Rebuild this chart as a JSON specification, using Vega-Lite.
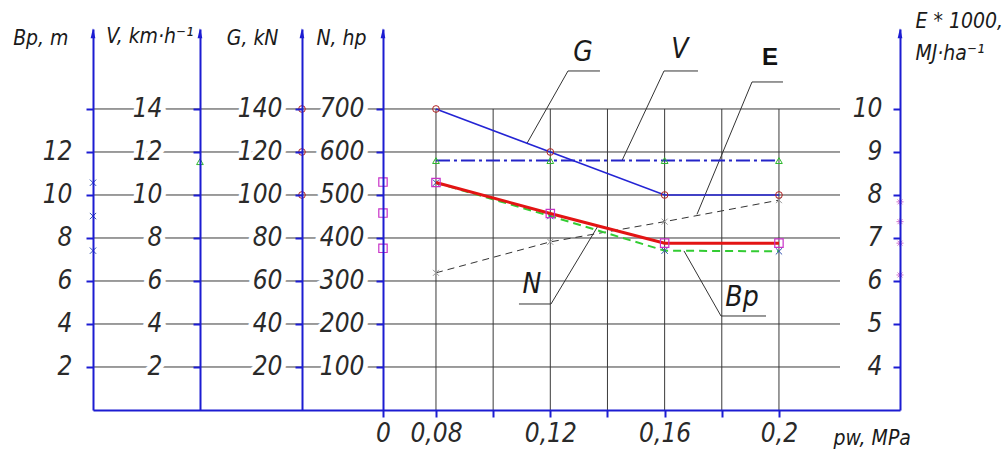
{
  "$schema": "https://vega.github.io/schema/vega-lite/v6.json",
  "width": 807,
  "height": 381,
  "autosize": {"type": "none"},
  "padding": {"left": 93, "top": 29, "right": 104, "bottom": 42},
  "background": "white",
  "config": {
    "view": {"stroke": null},
    "axis": {
      "domainColor": "#1c1cd2", "domainWidth": 2,
      "tickColor": "#1c1cd2", "tickWidth": 2, "tickSize": 7, "ticks": true,
      "labelFont": "DejaVu Sans Condensed, DejaVu Sans, sans-serif",
      "labelFontStyle": "italic", "labelFontSize": 26, "labelColor": "#2a2a2a",
      "labelOverlap": false, "labelFlush": false, "labelBound": false,
      "titleFont": "DejaVu Sans Condensed, DejaVu Sans, sans-serif",
      "titleFontStyle": "italic", "titleFontWeight": "normal", "titleFontSize": 21, "titleColor": "#1a1a1a",
      "grid": false
    }
  },
  "datasets": {
    "series": [
      {"p": 0.08, "G": 140, "V": 11.6, "N": 529, "Bp": 10.57, "E": 6.19},
      {"p": 0.12, "G": 120, "V": 11.6, "N": 457, "Bp": 9.02, "E": 6.91},
      {"p": 0.16, "G": 100, "V": 11.6, "N": 388, "Bp": 7.41, "E": 7.38},
      {"p": 0.2, "G": 100, "V": 11.6, "N": 388, "Bp": 7.38, "E": 7.88}
    ],
    "levels": [
      {"y": 100, "p": -0.04, "p2": 0.22136}, {"y": 200, "p": -0.04, "p2": 0.22136},
      {"y": 300, "p": -0.04, "p2": 0.22136}, {"y": 400, "p": -0.04, "p2": 0.22136},
      {"y": 500, "p": -0.04, "p2": 0.22136}, {"y": 600, "p": -0.04, "p2": 0.22136},
      {"y": 700, "p": -0.04, "p2": 0.22136}
    ],
    "vlines": [
      {"p": 0.08, "y": 0, "y2": 700}, {"p": 0.1, "y": 0, "y2": 700}, {"p": 0.12, "y": 0, "y2": 700},
      {"p": 0.14, "y": 0, "y2": 700}, {"p": 0.16, "y": 0, "y2": 700}, {"p": 0.18, "y": 0, "y2": 700},
      {"p": 0.2, "y": 0, "y2": 700}
    ],
    "axisTops": [
      {"p": -0.04, "y": 880}, {"p": -0.00258, "y": 880}, {"p": 0.03311, "y": 880},
      {"p": 0.06146, "y": 880}, {"p": 0.24235, "y": 880}
    ],
    "leaders": [
      {"p": 0.12619, "y": 788.4, "p2": 0.13738, "y2": 788.4},
      {"p": 0.12619, "y": 788.4, "p2": 0.11184, "y2": 620},
      {"p": 0.15978, "y": 788.4, "p2": 0.17167, "y2": 788.4},
      {"p": 0.15978, "y": 788.4, "p2": 0.14508, "y2": 580},
      {"p": 0.19057, "y": 762.8, "p2": 0.20141, "y2": 762.8},
      {"p": 0.19057, "y": 762.8, "p2": 0.17132, "y2": 455},
      {"p": 0.10904, "y": 246.5, "p2": 0.12024, "y2": 246.5},
      {"p": 0.12024, "y": 246.5, "p2": 0.13668, "y2": 428},
      {"p": 0.17972, "y": 218.6, "p2": 0.19547, "y2": 218.6},
      {"p": 0.17972, "y": 218.6, "p2": 0.16677, "y2": 370}
    ],
    "labels": [
      {"text": "G", "p": 0.13143, "y": 830},
      {"text": "V", "p": 0.16537, "y": 837},
      {"text": "E", "p": 0.19687, "y": 819},
      {"text": "N", "p": 0.11359, "y": 291},
      {"text": "Bp", "p": 0.18707, "y": 261}
    ],
    "bpMarks": [{"p": -0.04, "Bp": 10.57}, {"p": -0.04, "Bp": 9.02}, {"p": -0.04, "Bp": 7.41}],
    "vMarks": [{"p": -0.00258, "V": 11.55}],
    "gMarks": [{"p": 0.03311, "G": 140}, {"p": 0.03311, "G": 120}, {"p": 0.03311, "G": 100}],
    "nMarks": [{"p": 0.06146, "N": 530}, {"p": 0.06146, "N": 458}, {"p": 0.06146, "N": 376}],
    "eMarks": [{"p": 0.24235, "E": 7.84}, {"p": 0.24235, "E": 7.38}, {"p": 0.24235, "E": 6.88}, {"p": 0.24235, "E": 6.14}]
  },
  "encoding": {
    "x": {
      "field": "p", "type": "quantitative",
      "scale": {"domain": [-0.04, 0.24235], "nice": false, "zero": false},
      "axis": {
        "orient": "bottom", "zindex": 3,
        "values": [0.06146, 0.08, 0.1, 0.12, 0.14, 0.16, 0.18, 0.2],
        "labelExpr": "datum.value < 0.07 ? '0' : (datum.value == 0.1 || datum.value == 0.14 || datum.value == 0.18) ? '' : replace(format(datum.value, '.2~f'), '.', ',')",
        "tickSize": 7, "labelPadding": 3,
        "title": "pw, MPa", "titleX": 740, "titleY": 28, "titleAlign": "left", "titleBaseline": "middle", "titleAngle": 0
      }
    }
  },
  "layer": [
    {
      "encoding": {"y": {"field": "y", "type": "quantitative", "scale": {"domain": [0, 886], "nice": false, "zero": false}, "axis": null}},
      "layer": [
        {"data": {"name": "levels"}, "mark": {"type": "rule", "color": "#3a3a3a", "strokeWidth": 1},
         "encoding": {"x2": {"field": "p2"}}},
        {"data": {"name": "vlines"}, "mark": {"type": "rule", "color": "#3a3a3a", "strokeWidth": 1},
         "encoding": {"y2": {"field": "y2"}}},
        {"data": {"name": "leaders"}, "mark": {"type": "rule", "color": "#333333", "strokeWidth": 1},
         "encoding": {"x2": {"field": "p2"}, "y2": {"field": "y2"}}},
        {"data": {"name": "labels"}, "transform": [{"filter": "datum.text != 'E'"}],
         "mark": {"type": "text", "font": "DejaVu Sans Condensed, DejaVu Sans, sans-serif", "fontStyle": "italic", "fontSize": 28, "color": "#1a1a1a"},
         "encoding": {"text": {"field": "text"}}},
        {"data": {"name": "labels"}, "transform": [{"filter": "datum.text == 'E'"}],
         "mark": {"type": "text", "font": "Liberation Sans, sans-serif", "fontWeight": "bold", "fontSize": 24, "color": "#111111"},
         "encoding": {"text": {"field": "text"}}},
        {"data": {"name": "axisTops"}, "mark": {"type": "point", "shape": "M-0.35,1L0,-0.5L0.35,1Z", "filled": true, "color": "#1c1cd2", "size": 180, "opacity": 1}}
      ]
    },
    {
      "data": {"name": "series"}, "mark": {"type": "point", "opacity": 0},
      "encoding": {"y": {"field": "E", "type": "quantitative", "scale": {"domain": [3, 11.86], "nice": false, "zero": false},
        "axis": {"orient": "left", "offset": -807, "values": [4, 5, 6, 7, 8, 9, 10], "labelPadding": 11, "title": null, "domain": false, "tickOpacity": 0, "labelColor": "white", "zindex": 1,
          "encoding": {"labels": {"stroke": {"value": "white"}, "strokeWidth": {"value": 10}, "strokeJoin": {"value": "round"}}}}}}
    },
    {
      "data": {"name": "series"}, "mark": {"type": "point", "opacity": 0},
      "encoding": {"y": {"field": "Bp", "type": "quantitative", "scale": {"domain": [0, 17.72], "nice": false, "zero": false},
        "axis": {"orient": "left", "offset": 0, "values": [2, 4, 6, 8, 10, 12, 14], "labelExpr": "datum.value == 14 ? '' : datum.label", "labelPadding": 14, "title": null, "domain": false, "tickOpacity": 0, "labelColor": "white", "zindex": 1,
          "encoding": {"labels": {"stroke": {"value": "white"}, "strokeWidth": {"value": 10}, "strokeJoin": {"value": "round"}}}}}}
    },
    {
      "data": {"name": "series"}, "mark": {"type": "point", "opacity": 0},
      "encoding": {"y": {"field": "N", "type": "quantitative", "scale": {"domain": [0, 886], "nice": false, "zero": false},
        "axis": {"orient": "left", "offset": -290, "values": [100, 200, 300, 400, 500, 600, 700], "labelPadding": 12, "title": null, "domain": false, "tickOpacity": 0, "labelColor": "white", "zindex": 1,
          "encoding": {"labels": {"stroke": {"value": "white"}, "strokeWidth": {"value": 10}, "strokeJoin": {"value": "round"}}}}}}
    },
    {
      "data": {"name": "series"}, "mark": {"type": "point", "opacity": 0},
      "encoding": {"y": {"field": "V", "type": "quantitative", "scale": {"domain": [0, 17.72], "nice": false, "zero": false},
        "axis": {"orient": "left", "offset": -107, "values": [2, 4, 6, 8, 10, 12, 14], "labelPadding": 31, "title": null, "domain": false, "tickOpacity": 0, "labelColor": "white", "zindex": 1,
          "encoding": {"labels": {"stroke": {"value": "white"}, "strokeWidth": {"value": 10}, "strokeJoin": {"value": "round"}}}}}}
    },
    {
      "data": {"name": "series"}, "mark": {"type": "point", "opacity": 0},
      "encoding": {"y": {"field": "G", "type": "quantitative", "scale": {"domain": [0, 177.2], "nice": false, "zero": false},
        "axis": {"orient": "left", "offset": -209, "values": [20, 40, 60, 80, 100, 120, 140], "labelPadding": 13, "title": null, "domain": false, "tickOpacity": 0, "labelColor": "white", "zindex": 1,
          "encoding": {"labels": {"stroke": {"value": "white"}, "strokeWidth": {"value": 10}, "strokeJoin": {"value": "round"}}}}}}
    },
    {
      "encoding": {"y": {"field": "E", "type": "quantitative", "scale": {"domain": [3, 11.86], "nice": false, "zero": false},
        "axis": {"orient": "left", "offset": -807, "zindex": 3, "values": [4, 5, 6, 7, 8, 9, 10], "labelPadding": 11,
          "title": ["E * 1000,", "MJ·ha⁻¹"], "titleX": 15, "titleY": -19, "titleAlign": "left", "titleBaseline": "top", "titleAngle": 0, "titleLineHeight": 32}}},
      "layer": [
        {"data": {"name": "series"}, "mark": {"type": "line", "color": "#333333", "strokeWidth": 1, "strokeDash": [7, 5]}},
        {"data": {"name": "series"}, "mark": {"type": "point", "shape": "M-1,-1L1,1M-1,1L1,-1", "filled": false, "color": "#999999", "size": 36, "strokeWidth": 1, "opacity": 1}},
        {"data": {"name": "eMarks"}, "mark": {"type": "point", "shape": "M-1,0L1,0M0,-1L0,1M-0.7,-0.7L0.7,0.7M-0.7,0.7L0.7,-0.7", "filled": false, "color": "#d070d0", "size": 50, "strokeWidth": 1, "opacity": 1}}
      ]
    },
    {
      "encoding": {"y": {"field": "Bp", "type": "quantitative", "scale": {"domain": [0, 17.72], "nice": false, "zero": false},
        "axis": {"orient": "left", "offset": 0, "zindex": 3, "values": [2, 4, 6, 8, 10, 12, 14], "labelExpr": "datum.value == 14 ? '' : datum.label", "labelPadding": 14,
          "title": "Bp, m", "titleX": -25, "titleY": 9, "titleAlign": "right", "titleBaseline": "middle", "titleAngle": 0}}},
      "layer": [
        {"data": {"name": "series"}, "mark": {"type": "line", "color": "#33cc33", "strokeWidth": 2, "strokeDash": [8, 5]}},
        {"data": {"name": "series"}, "mark": {"type": "point", "shape": "M-1,-1L1,1M-1,1L1,-1", "filled": false, "color": "#3050b0", "size": 40, "strokeWidth": 1, "opacity": 1}},
        {"data": {"name": "bpMarks"}, "mark": {"type": "point", "shape": "M-1,-1L1,1M-1,1L1,-1", "filled": false, "color": "#3050b0", "size": 40, "strokeWidth": 1, "opacity": 1}}
      ]
    },
    {
      "encoding": {"y": {"field": "N", "type": "quantitative", "scale": {"domain": [0, 886], "nice": false, "zero": false},
        "axis": {"orient": "left", "offset": -290, "zindex": 3, "values": [100, 200, 300, 400, 500, 600, 700], "labelPadding": 12,
          "title": "N, hp", "titleX": -17, "titleY": 9, "titleAlign": "right", "titleBaseline": "middle", "titleAngle": 0}}},
      "layer": [
        {"data": {"name": "series"}, "mark": {"type": "line", "color": "#e31414", "strokeWidth": 3}},
        {"data": {"name": "series"}, "mark": {"type": "point", "shape": "square", "filled": false, "color": "#c832c8", "size": 70, "strokeWidth": 1.2, "opacity": 1}},
        {"data": {"name": "nMarks"}, "mark": {"type": "point", "shape": "square", "filled": false, "color": "#c832c8", "size": 70, "strokeWidth": 1.2, "opacity": 1}}
      ]
    },
    {
      "encoding": {"y": {"field": "V", "type": "quantitative", "scale": {"domain": [0, 17.72], "nice": false, "zero": false},
        "axis": {"orient": "left", "offset": -107, "zindex": 3, "values": [2, 4, 6, 8, 10, 12, 14], "labelPadding": 31,
          "title": "V, km·h⁻¹", "titleX": -7, "titleY": 7, "titleAlign": "right", "titleBaseline": "middle", "titleAngle": 0}}},
      "layer": [
        {"data": {"name": "series"}, "mark": {"type": "line", "color": "#2424c8", "strokeWidth": 2, "strokeDash": [14, 4, 3, 4]}},
        {"data": {"name": "series"}, "mark": {"type": "point", "shape": "triangle-up", "filled": false, "color": "#2db82d", "size": 45, "strokeWidth": 1, "opacity": 1}},
        {"data": {"name": "vMarks"}, "mark": {"type": "point", "shape": "triangle-up", "filled": false, "color": "#2db82d", "size": 45, "strokeWidth": 1, "opacity": 1}}
      ]
    },
    {
      "encoding": {"y": {"field": "G", "type": "quantitative", "scale": {"domain": [0, 177.2], "nice": false, "zero": false},
        "axis": {"orient": "left", "offset": -209, "zindex": 3, "values": [20, 40, 60, 80, 100, 120, 140], "labelPadding": 13,
          "title": "G, kN", "titleX": -24, "titleY": 9, "titleAlign": "right", "titleBaseline": "middle", "titleAngle": 0}}},
      "layer": [
        {"data": {"name": "series"}, "mark": {"type": "line", "color": "#2424d4", "strokeWidth": 1.6}},
        {"data": {"name": "series"}, "mark": {"type": "point", "shape": "circle", "filled": false, "color": "#b22222", "size": 45, "strokeWidth": 1, "opacity": 1}},
        {"data": {"name": "gMarks"}, "mark": {"type": "point", "shape": "circle", "filled": false, "color": "#b22222", "size": 45, "strokeWidth": 1, "opacity": 1}}
      ]
    }
  ],
  "resolve": {"scale": {"y": "independent"}, "axis": {"y": "independent"}}
}
